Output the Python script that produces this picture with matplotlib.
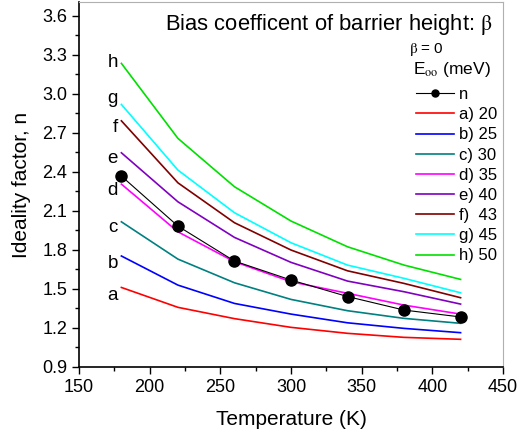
import matplotlib
matplotlib.use("Agg")
import matplotlib.pyplot as plt
from matplotlib.ticker import MultipleLocator, FormatStrFormatter

plt.rcParams['font.family'] = ['Liberation Sans', 'DejaVu Sans']
plt.rcParams['mathtext.fontset'] = 'stix'

temperature = [180, 220, 260, 300, 340, 380, 420]
n_exp = [2.367, 1.982, 1.713, 1.567, 1.44, 1.336, 1.283]
curve_a = [1.51, 1.357, 1.27, 1.203, 1.157, 1.126, 1.111]
curve_b = [1.752, 1.528, 1.387, 1.305, 1.238, 1.195, 1.162]
curve_c = [2.015, 1.728, 1.546, 1.418, 1.331, 1.272, 1.234]
curve_d = [2.305, 1.938, 1.708, 1.554, 1.465, 1.374, 1.305]
curve_e = [2.546, 2.169, 1.895, 1.703, 1.559, 1.477, 1.382]
curve_f = [2.792, 2.315, 2.008, 1.798, 1.638, 1.541, 1.431]
curve_g = [2.918, 2.413, 2.085, 1.854, 1.682, 1.58, 1.469]
curve_h = [3.234, 2.657, 2.285, 2.021, 1.823, 1.682, 1.572]

curves = [curve_a, curve_b, curve_c, curve_d, curve_e, curve_f, curve_g, curve_h]
letters = ['a', 'b', 'c', 'd', 'e', 'f', 'g', 'h']
letter_y = [1.413, 1.659, 1.936, 2.221, 2.467, 2.705, 2.928, 3.205]
legend_labels = ['a) 20', 'b) 25', 'c) 30', 'd) 35', 'e) 40', 'f)  43', 'g) 45', 'h) 50']
colors = ['#ff0000', '#0000ff', '#008080', '#ff00ff', '#8000c0', '#800000', '#00ffff', '#00e000']

fig = plt.figure(figsize=(5.18, 4.34), dpi=100)
ax = fig.add_axes([0.1525, 0.155, 0.8185, 0.84])

handles = []
h_n, = ax.plot(temperature, n_exp, color='black', lw=0.8, marker='o', ms=8, zorder=5)
handles.append(h_n)
for c, col in zip(curves, colors):
    h, = ax.plot(temperature, c, color=col, lw=1.2)
    handles.append(h)

for ly, let in zip(letter_y, letters):
    ax.text(177.6, ly, let, ha='right', va='baseline', fontsize=13.5)

ax.set_xlim(150, 450)
ax.set_ylim(0.9, 3.705)
ax.xaxis.set_major_locator(MultipleLocator(50))
ax.xaxis.set_minor_locator(MultipleLocator(25))
ax.yaxis.set_major_locator(MultipleLocator(0.3))
ax.yaxis.set_minor_locator(MultipleLocator(0.15))
ax.yaxis.set_major_formatter(FormatStrFormatter('%.1f'))
ax.tick_params(which='major', direction='out', length=5, width=1, labelsize=13)
ax.tick_params(which='minor', direction='out', length=3, width=1)
ax.tick_params(top=False, right=False)
for s in ['top', 'right']:
    ax.spines[s].set_color('#b0b0b0')
for s in ['left', 'bottom']:
    ax.spines[s].set_linewidth(1.2)

ax.set_xlabel('Temperature (K)', fontsize=15, labelpad=10.5)
ax.set_ylabel('Ideality factor, n', fontsize=15, labelpad=8)

ax.text(0.976, 0.925, r'Bias coefficent of barrier height: $\mathrm{\beta}$', transform=ax.transAxes,
        ha='right', va='baseline', fontsize=15.8)
ax.text(0.778, 0.860, r'$\mathrm{\beta}$ = 0', transform=ax.transAxes, ha='left', va='baseline', fontsize=11)
ax.text(0.788, 0.8025, r'E$_{\mathrm{oo}}$ (meV)', transform=ax.transAxes, ha='left', va='baseline', fontsize=12.5)

leg = ax.legend(handles, ['n'] + legend_labels, loc='upper left',
                bbox_to_anchor=(0.794, 0.767), frameon=False, fontsize=12,
                handlelength=2.28, handletextpad=0.3, labelspacing=0.31,
                borderaxespad=0, borderpad=0, markerscale=0.63)

fig.savefig('out.png', dpi=100)
